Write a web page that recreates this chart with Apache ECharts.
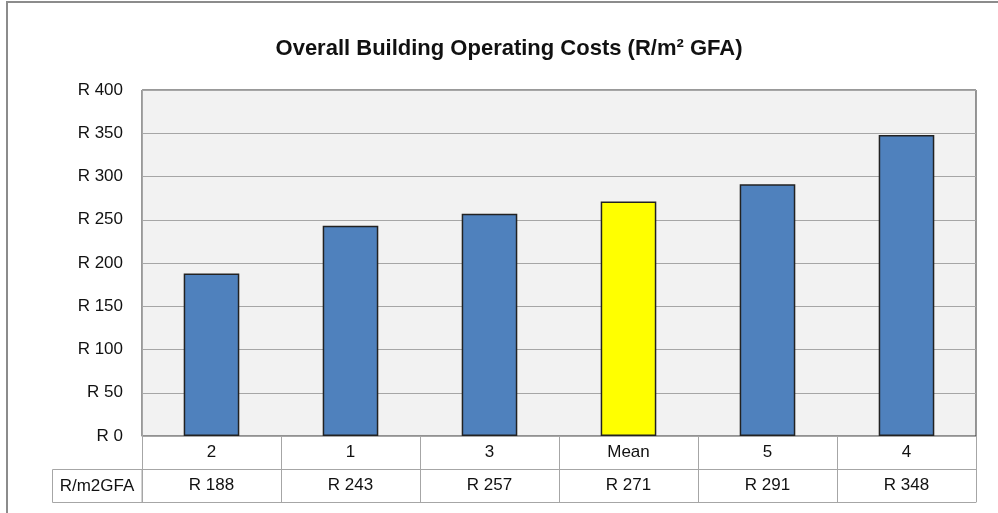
<!DOCTYPE html>
<html>
<head>
<meta charset="utf-8">
<script src="https://cdn.jsdelivr.net/npm/echarts@6/dist/echarts.min.js"></script>
<style>
  html, body { margin: 0; padding: 0; background: #fff; }
  #chart { width: 998px; height: 513px; }
</style>
</head>
<body>
<div id="chart"></div>
<script>
// 数据
const categories = ["2", "1", "3", "Mean", "5", "4"];
const costs = [188, 243, 257, 271, 291, 348];
const yTicks = [0, 50, 100, 150, 200, 250, 300, 350, 400];
const rowLabel = "R/m2GFA";

const FONT = "'Liberation Sans', Arial, sans-serif";
const lineGray = "#a6a6a6";

let myChart = echarts.init(document.getElementById("chart"));
myChart.setOption({
  animation: false,
  title: {
    text: "Overall Building Operating Costs (R/m\u00b2 GFA)",
    left: 504,
    top: 33,
    textAlign: "center",
    textStyle: { fontFamily: FONT, fontWeight: "bold", fontSize: 22, color: "#111" }
  },
  grid: {
    left: 142,
    right: 22,
    top: 90,
    bottom: 77,
    show: true,
    backgroundColor: "#f2f2f2",
    borderColor: "#333",
    borderWidth: 1
  },
  xAxis: [
    {
      type: "category",
      data: categories,
      position: "bottom",
      axisLine: { show: true, lineStyle: { color: lineGray } },
      axisTick: { show: true, length: 33, interval: 0, lineStyle: { color: lineGray } },
      axisLabel: { interval: 0, margin: 8, fontFamily: FONT, fontSize: 17, color: "#111" }
    },
    {
      type: "category",
      data: costs.map(v => "R " + v),
      position: "bottom",
      offset: 33,
      axisLine: { show: true, lineStyle: { color: lineGray } },
      axisTick: { show: true, length: 33, interval: 0, lineStyle: { color: lineGray } },
      axisLabel: { interval: 0, margin: 8, fontFamily: FONT, fontSize: 17, color: "#111" }
    },
    {
      type: "category",
      data: categories,
      position: "bottom",
      offset: 66,
      axisLine: { show: true, lineStyle: { color: lineGray } },
      axisTick: { show: false },
      axisLabel: { show: false }
    }
  ],
  yAxis: {
    type: "value",
    min: yTicks[0],
    max: yTicks[yTicks.length - 1],
    interval: 50,
    axisLine: { show: true, lineStyle: { color: lineGray } },
    axisTick: { show: false },
    splitLine: { lineStyle: { color: lineGray, width: 1 } },
    axisLabel: {
      margin: 19,
      fontFamily: FONT,
      fontSize: 17,
      color: "#111",
      formatter: v => "R " + v
    }
  },
  graphic: [
    {
      type: "rect",
      shape: { x: 7, y: 2, width: 1200, height: 700 },
      style: { fill: "none", stroke: "#8c8c8c", lineWidth: 2 },
      z: 0
    },
    {
      type: "rect",
      shape: { x: 52.5, y: 469.5, width: 89.5, height: 33 },
      style: { fill: "none", stroke: lineGray, lineWidth: 1 }
    },
    {
      type: "text",
      x: 97,
      y: 486,
      style: {
        text: rowLabel,
        fontFamily: FONT,
        fontSize: 17,
        fill: "#111",
        align: "center",
        verticalAlign: "middle"
      }
    }
  ],
  series: [
    {
      type: "bar",
      data: costs,
      barWidth: "40%",
      itemStyle: {
        color: p => (p.name === "Mean" ? "#ffff00" : "#4f81bd"),
        borderColor: "#222",
        borderWidth: 1.5
      }
    }
  ]
});
</script>
</body>
</html>
